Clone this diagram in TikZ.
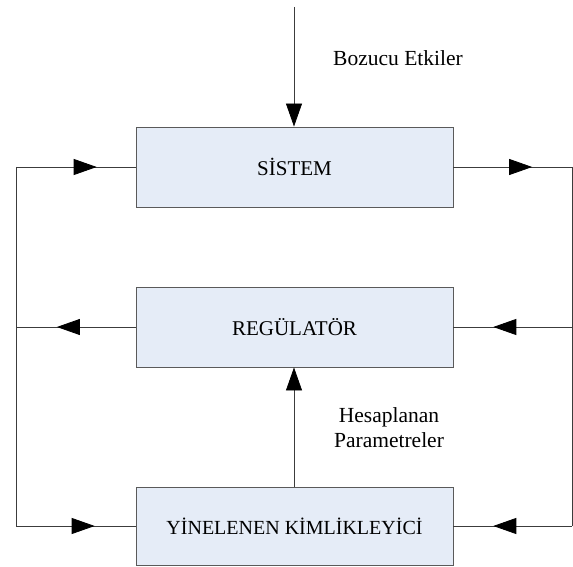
\documentclass[tikz,border=0pt]{standalone}
\usepackage{fontspec}
\setmainfont{Liberation Serif}
\usetikzlibrary{arrows.meta,decorations.markings}
\definecolor{boxfill}{HTML}{E5ECF7}
\definecolor{boxline}{HTML}{5A5A5A}
\definecolor{wire}{HTML}{3C3C3C}
\tikzset{
  blockbox/.style={draw=boxline, line width=0.9pt, fill=boxfill, minimum width=317pt, inner sep=0pt, font=\fontsize{21}{25}\selectfont},
  lbl/.style={font=\fontsize{21.5}{25}\selectfont, align=center, inner sep=0pt},
  wireline/.style={draw=wire, line width=0.8pt},
  tip/.style={-{Triangle[length=23pt,width=16pt,color=black]}},
  midtip/.style={postaction={decorate}, decoration={markings, mark=at position #1 with {\arrow{Triangle[length=23pt,width=16pt,color=black]}}}}
}
\begin{document}
\begin{tikzpicture}[x=1pt,y=-1pt]
\useasboundingbox (0,0) rectangle (573,567);
\node[blockbox, minimum height=80pt] (sys) at (294.5,167) {SİSTEM};
\node[blockbox, minimum height=80pt] (reg) at (294.5,327) {REGÜLATÖR};
\node[blockbox, minimum height=78pt, font=\fontsize{20}{24}\selectfont] (yin) at (294.5,526) {YİNELENEN KİMLİKLEYİCİ};
\node[lbl] (boz) at (398,58) {Bozucu Etkiler};
\node[lbl] (hes) at (389,428) {Hesaplanan\\Parametreler};
\coordinate (top) at (294,7);
\coordinate (lt) at (16,167);
\coordinate (lm) at (16,327);
\coordinate (lb) at (16,526);
\coordinate (rt) at (572,167);
\coordinate (rm) at (572,327);
\coordinate (rb) at (572,526);
\draw[wireline, tip] (top) -- (top |- sys.north);
\draw[wireline, tip] (yin.north -| top) -- (reg.south -| top);
\draw[wireline, midtip=0.664] (sys.east) -- (rt);
\draw[wireline] (rt) -- (rb);
\draw[wireline, midtip=0.664] (rm) -- (reg.east);
\draw[wireline, midtip=0.664] (rb) -- (yin.east);
\draw[wireline, midtip=0.675] (lt) -- (sys.west);
\draw[wireline] (lt) -- (lb);
\draw[wireline, midtip=0.658] (reg.west) -- (lm);
\draw[wireline, midtip=0.658] (lb) -- (yin.west);
\end{tikzpicture}
\end{document}
